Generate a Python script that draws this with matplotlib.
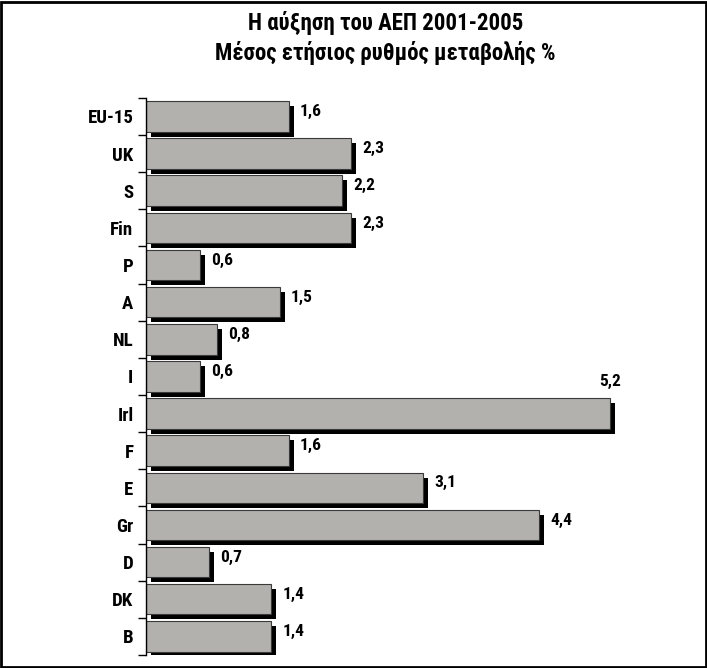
import matplotlib
matplotlib.use("Agg")
import matplotlib.pyplot as plt
from matplotlib import font_manager
from matplotlib.transforms import ScaledTranslation
from matplotlib.patches import Rectangle

# prefer a narrow bold face if one is installed
names = {f.name for f in font_manager.fontManager.ttflist}
narrow = [n for n in ['Liberation Sans Narrow', 'Roboto Condensed', 'Open Sans Condensed',
                      'Noto Sans Condensed', 'DejaVu Sans Condensed'] if n in names]
plt.rcParams['font.family'] = narrow + ['DejaVu Sans']
plt.rcParams['font.weight'] = 'bold'
plt.rcParams['font.stretch'] = 'condensed'

countries = ['EU-15', 'UK', 'S', 'Fin', 'P', 'A', 'NL', 'I', 'Irl', 'F', 'E', 'Gr', 'D', 'DK', 'B']
growth = [1.6, 2.3, 2.2, 2.3, 0.6, 1.5, 0.8, 0.6, 5.2, 1.6, 3.1, 4.4, 0.7, 1.4, 1.4]
title_lines = ['Η αύξηση του ΑΕΠ 2001-2005', 'Μέσος ετήσιος ρυθμός μεταβολής %']

fig = plt.figure(figsize=(7.07, 6.68), dpi=100)
ax = fig.add_axes([0.2065, 0.0195, 0.758, 0.834])

y = list(range(len(countries)))
# drop shadow: same bars shifted 5px right and 5px down
shadow = ax.transData + ScaledTranslation(5 / 100, -5 / 100, fig.dpi_scale_trans)
ax.barh(y, growth, height=0.82, color='black', transform=shadow, zorder=1)
ax.barh(y, growth, height=0.82, color='#b3b1ad', edgecolor='#3a3a3a', linewidth=0.8, zorder=2)

for yi, v in zip(y, growth):
    txt = f'{v:.1f}'.replace('.', ',')
    if v > 5:
        ax.annotate(txt, (v, yi), xytext=(0, 18), textcoords='offset points',
                    ha='center', va='bottom', fontsize=12.5, fontweight='bold')
    else:
        ax.annotate(txt, (v, yi), xytext=(8, 3.5), textcoords='offset points',
                    ha='left', va='center', fontsize=12.5, fontweight='bold')

ax.set_ylim(len(countries) - 0.5, -0.5)
ax.set_xlim(0, 6)
ax.set_yticks(y)
ax.set_yticklabels(countries, fontsize=13.5, fontweight='bold')
ax.set_yticks([i - 0.5 for i in range(len(countries) + 1)], minor=True)
ax.tick_params(axis='y', which='major', length=0, pad=9)
ax.tick_params(axis='y', which='minor', length=6, width=1, direction='out')
ax.set_xticks([])
for side in ['top', 'right', 'bottom']:
    ax.spines[side].set_visible(False)
ax.spines['left'].set_linewidth(1)

fig.text(0.545, 1 - 23 / 668, title_lines[0], ha='center', va='center', fontsize=16.5, fontweight='bold')
fig.text(0.545, 1 - 53 / 668, title_lines[1], ha='center', va='center', fontsize=16.5, fontweight='bold')

fig.patches.append(Rectangle((0.002, 0.002), 0.996, 0.995, transform=fig.transFigure,
                             fill=False, edgecolor='black', linewidth=2))

fig.savefig('out.png', dpi=100)
